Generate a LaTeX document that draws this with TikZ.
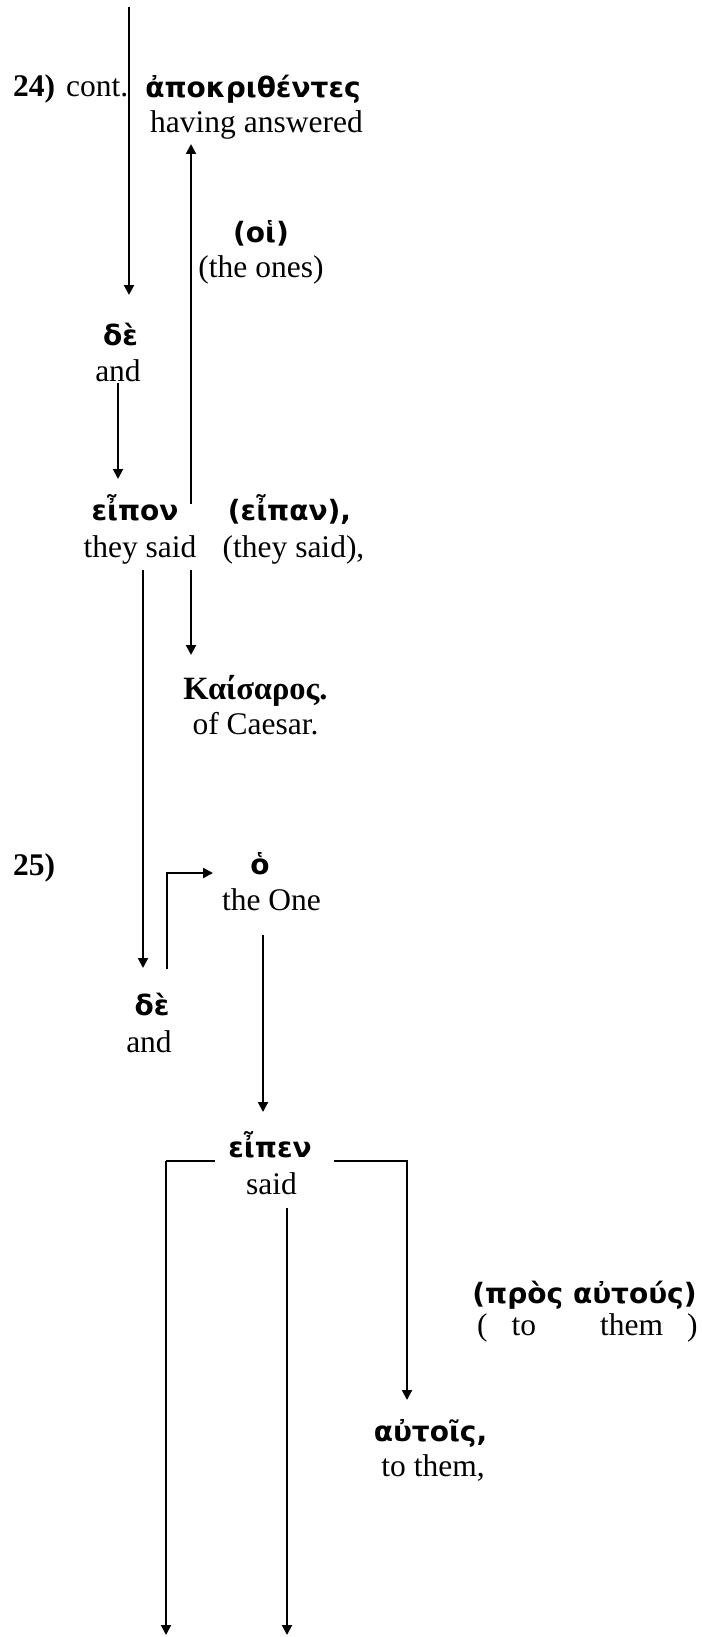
\documentclass[tikz,border=0pt]{standalone}
\usepackage{fontspec}
\setmainfont{Liberation Serif}
\newfontfamily\gk{DejaVu Sans}
\usetikzlibrary{arrows.meta}

\begin{document}
\begin{tikzpicture}[x=1pt,y=-1pt,
  eng/.style={font=\fontsize{31.5}{36}\selectfont, inner sep=0pt, anchor=base},
  engb/.style={font=\fontsize{31.5}{36}\selectfont\bfseries, inner sep=0pt, anchor=base west},
  grk/.style={font=\gk\fontsize{28}{31}\selectfont\bfseries, inner sep=0pt, anchor=base},
  grkser/.style={font=\fontsize{32.5}{36}\selectfont\bfseries, inner sep=0pt, anchor=base},
  link/.style={line width=2pt},
  arr/.style={line width=2pt, -{Triangle[width=10pt,length=10pt]}}]
\useasboundingbox (0,0) rectangle (701,1637);

% verse numbers
\node[engb] (v24) at (13,97) {24)};
\node[eng, anchor=base west] (cont) at (66,97) {cont.};
\node[engb] (v25) at (13,875) {25)};

% words of verse 24
\node[grk] (apokr) at (253,98) {ἀποκριθέντες};
\node[eng] (apokrE) at (256.5,133) {having answered};
\node[grk] (hoi) at (261,243) {(οἱ)};
\node[eng] (hoiE) at (261,277) {(the ones)};
\node[grk] (de1) at (120.5,345) {δὲ};
\node[eng] (de1E) at (118,381) {and};
\node[grk] (eipon) at (135,520) {εἶπον};
\node[eng] (eiponE) at (140,557) {they said};
\node[grk] (eipan) at (289.5,520) {(εἶπαν),};
\node[eng] (eipanE) at (293.5,557) {(they said),};
\node[grkser] (kais) at (255.5,699) {Καίσαρος.};
\node[eng] (kaisE) at (255.5,734) {of Caesar.};

% words of verse 25
\node[grk] (ho) at (260,874) {ὁ};
\node[eng] (hoE) at (271.5,910) {the One};
\node[grk] (de2) at (152,1015) {δὲ};
\node[eng] (de2E) at (149,1052) {and};
\node[grk] (eipen) at (270,1157) {εἶπεν};
\node[eng] (eipenE) at (271.5,1194) {said};
\node[grk] (pros) at (584.5,1303) {(πρὸς αὐτούς)};
\node[eng, anchor=base west] (prosE) at (477,1335) {(\hspace{24pt}to\hspace{64pt}them\hspace{24pt})};
\node[grk] (autois) at (430.5,1441) {αὐτοῖς,};
\node[eng] (autoisE) at (433,1476) {to them,};

% connector ends
\coordinate (inTop) at (129,7);
\coordinate (inEnd) at (129,295);
\coordinate (andA) at (118,383);
\coordinate (andB) at (118,479);
\coordinate (upA) at (191,504);
\coordinate (upB) at (191,144);
\coordinate (kA) at (191,570);
\coordinate (kB) at (191,655);
\coordinate (longA) at (143,570);
\coordinate (longB) at (143,968);
\coordinate (hoA) at (167,969);
\coordinate (hoK) at (167,873);
\coordinate (hoB) at (213,873);
\coordinate (oneA) at (263,935);
\coordinate (oneB) at (263,1112);
\coordinate (brL) at (215,1161);
\coordinate (brLc) at (166,1161);
\coordinate (bot1) at (166,1635);
\coordinate (brR) at (334,1161);
\coordinate (brRc) at (407,1161);
\coordinate (autB) at (407,1400);
\coordinate (midA) at (287,1208);
\coordinate (bot2) at (287,1635);

% verse 24 connectors
\draw[arr] (inTop) -- (inEnd);
\draw[arr] (andA) -- (andB);
\draw[arr] (upA) -- (upB);
\draw[arr] (kA) -- (kB);
\draw[arr] (longA) -- (longB);

% verse 25 connectors
\draw[arr] (hoA) -- (hoK) -- (hoB);
\draw[arr] (oneA) -- (oneB);
\draw[link] (brL) -- (brLc);
\draw[arr] (brLc) -- (bot1);
\draw[arr] (brR) -- (brRc) -- (autB);
\draw[arr] (midA) -- (bot2);
\end{tikzpicture}
\end{document}
